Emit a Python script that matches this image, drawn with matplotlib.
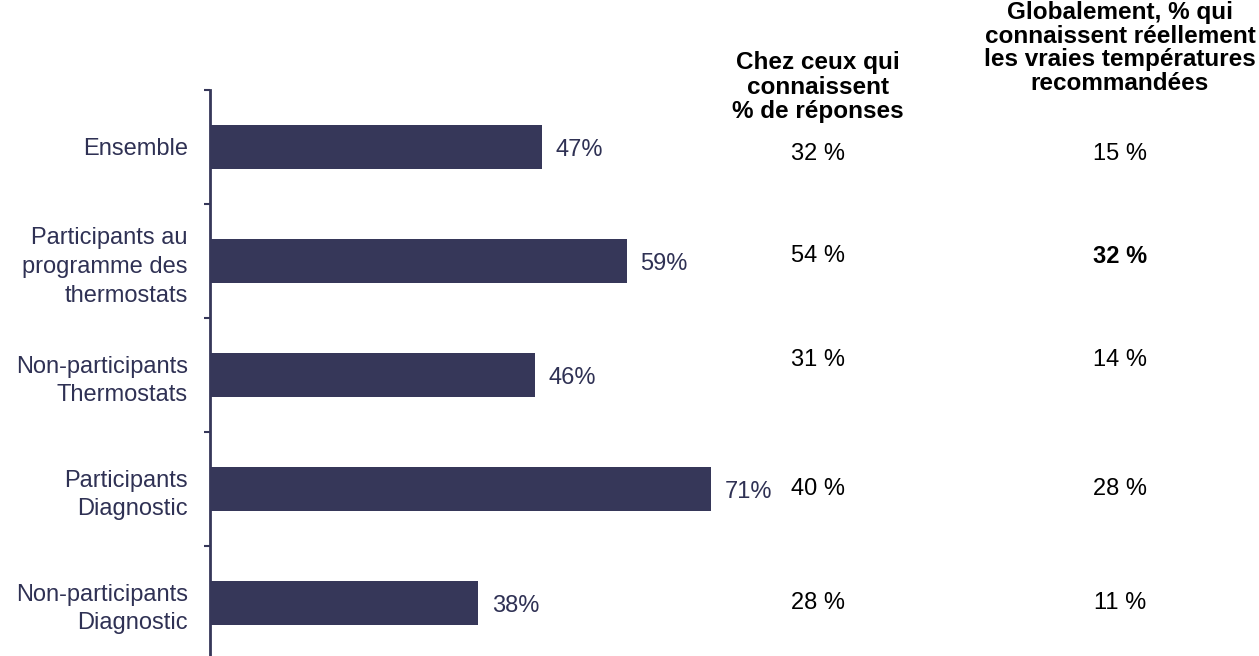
import numpy as np
import matplotlib.pyplot as plt
import matplotlib.transforms as mtransforms

plt.rcParams['font.family'] = ['Liberation Sans', 'DejaVu Sans']

categories = ['Ensemble',
              'Participants au\nprogramme des\nthermostats',
              'Non-participants\nThermostats',
              'Participants\nDiagnostic',
              'Non-participants\nDiagnostic']
awareness = [47, 59, 46, 71, 38]
col1_values = ['32 %', '54 %', '31 %', '40 %', '28 %']
col2_values = ['15 %', '32 %', '14 %', '28 %', '11 %']
col2_bold = [False, True, False, False, False]
col1_header = 'Chez ceux qui\nconnaissent\n% de réponses'
col2_header = 'Globalement, % qui\nconnaissent réellement\nles vraies températures\nrecommandées'

navy = '#363759'
text_navy = '#2f3154'

fig = plt.figure(figsize=(12.59, 6.56), dpi=100)
W, H = 1259, 656
ax = fig.add_axes([210 / W, 0, 1 - 210 / W, (656 - 90) / H])

y = np.arange(len(categories))
ax.barh(y, awareness, height=0.39, color=navy)
ax.set_xlim(0, (W - 210) / 7.06)
ax.set_ylim(-0.5 + (656 - 90) / 114, -0.5)

for yi, v in zip(y, awareness):
    ax.annotate(f'{v}%', (v, yi), xytext=(10, -2), textcoords='offset points',
                va='center', ha='left', fontsize=17, color=text_navy)

ax.set_yticks(np.arange(len(categories)) - 0.5)
ax.set_yticklabels([])
ax.tick_params(axis='y', length=4, width=1.5, color=navy)
ax.set_yticks(y, minor=True)
ax.set_yticklabels(categories, minor=True, fontsize=17, color=text_navy,
                   linespacing=1.4)
ax.tick_params(axis='y', which='minor', length=0, pad=16)
ax.set_xticks([])
for s in ['top', 'right', 'bottom']:
    ax.spines[s].set_visible(False)
ax.spines['left'].set_color(navy)
ax.spines['left'].set_linewidth(2)

# table columns
col1_x = 818 / W
col2_x = 1120 / W
row_offsets = [0.06, -0.04, -0.13, 0.0, 0.0]
tr = mtransforms.blended_transform_factory(fig.transFigure, ax.transData)
for i in range(len(categories)):
    ax.text(col1_x, y[i] + row_offsets[i], col1_values[i], transform=tr,
            ha='center', va='center', fontsize=17, color='black')
    ax.text(col2_x, y[i] + row_offsets[i], col2_values[i], transform=tr,
            ha='center', va='center', fontsize=17, color='black',
            fontweight='bold' if col2_bold[i] else 'normal')

fig.text(col1_x, 1 - 87 / H, col1_header, ha='center', va='center',
         fontsize=17.5, fontweight='bold', linespacing=1.07)
fig.text(col2_x, 1 - 48 / H, col2_header, ha='center', va='center',
         fontsize=17.5, fontweight='bold', linespacing=1.03)

fig.savefig('out.png', dpi=100)
